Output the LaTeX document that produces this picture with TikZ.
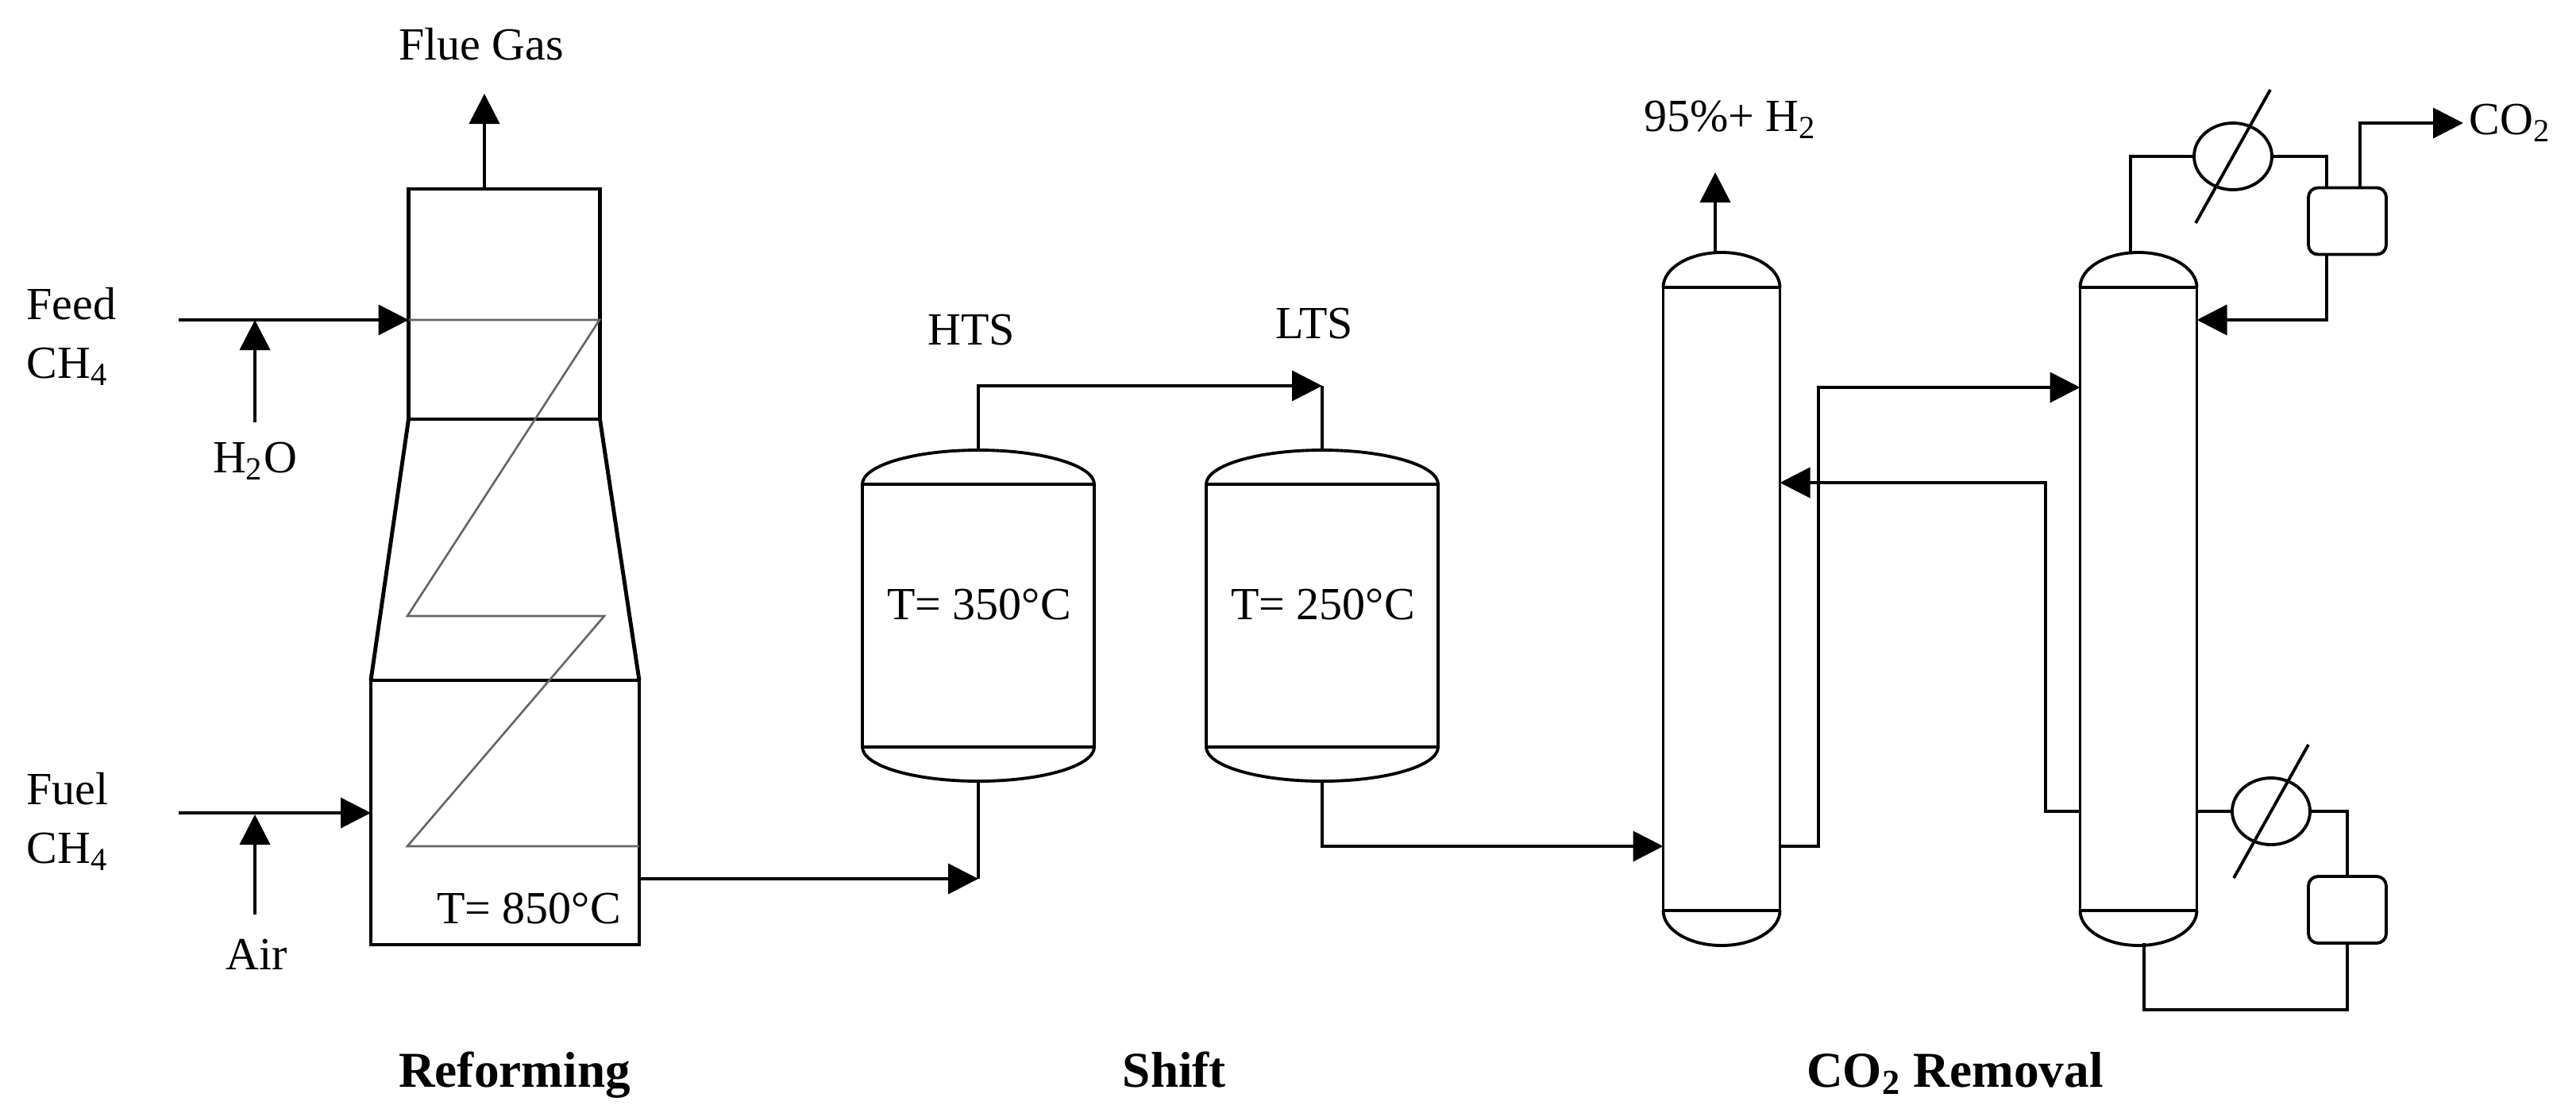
\documentclass[tikz,border=0pt]{standalone}
\usepackage{fontspec}
\setmainfont{Liberation Serif}
\usepackage{xcolor}
\usetikzlibrary{arrows.meta, positioning, calc, shapes.geometric}
\tikzset{
  >={Triangle[length=3.8mm,width=3.8mm]},
  % Testi
  tag/.style={inner sep=2pt,align=left,font=\fontsize{16.5}{21}\selectfont},
  title/.style={inner sep=2pt,anchor=base,font=\fontsize{18}{21}\selectfont\bfseries},
  % Apparecchi
  furnace/.style={draw,line width=1.4pt,inner sep=0,outer sep=0},
  vessel/.style={draw,line width=1.1pt,inner sep=0,outer sep=0},
  drum/.style={draw,line width=1.1pt,rounded corners=1.2mm,inner sep=0,outer sep=0,minimum width=.98cm,minimum height=.84cm},
  cooler/.style={draw,ellipse,line width=1.1pt,inner sep=0,outer sep=0,minimum width=.98cm,minimum height=.84cm},
  % Connessioni
  flow/.style={line width=1.1pt},
  coil/.style={line width=.75pt,black!60}
}
\begin{document}
\begin{tikzpicture}
  \useasboundingbox (0,0) rectangle (32.44,-13.96);
  % Reforming
  \node[furnace, minimum width=2.41cm, minimum height=2.90cm] (convection) at (6.35,-3.83) {};
  \node[furnace, minimum width=3.38cm, minimum height=3.33cm] (radiant) at (6.36,-10.235) {};
  \draw[furnace] (convection.south west) -- (radiant.north west);
  \draw[furnace] (convection.south east) -- (radiant.north east);
  \node[tag] (fluegas) at (6.06,-.56) {Flue Gas};
  \node[tag, anchor=west] (feed) at (.26,-4.24) {Feed\\CH\textsubscript{4}};
  \node[tag, anchor=west] (fuel) at (.26,-10.35) {Fuel\\CH\textsubscript{4}};
  \node[tag] (water) at (3.21,-5.81) {H\textsubscript{2}O};
  \node[tag] (air) at (3.23,-12.02) {Air};
  \node[tag] (tradiant) at (6.66,-11.44) {T= 850°C};
  \coordinate (stack) at (6.10,-1.18);
  \coordinate (feedin) at (2.25,-4.03);
  \coordinate (fuelin) at (2.25,-10.24);
  \coordinate (rfout) at (radiant.east |- 0,-11.07);
  \draw[coil] (feedin -| convection.west) -- (7.55,-4.03) -- (5.13,-7.76) -- (7.61,-7.76) -- (5.13,-10.66) -- (radiant.east |- 0,-10.66);
  \draw[flow,->] (stack |- convection.north) -- (stack);
  \draw[flow,->] (feedin) -- (feedin -| convection.west);
  \draw[flow,->] (fuelin) -- (fuelin -| radiant.west);
  \draw[flow,->] (3.21,-5.32) -- (3.21,-4.03);
  \draw[flow,->] (3.21,-11.52) -- (3.21,-10.26);
  % Shift
  \node[vessel, minimum width=2.92cm, minimum height=3.31cm] (hts) at (12.32,-7.755) {};
  \node[vessel, minimum width=2.92cm, minimum height=3.31cm] (lts) at (16.65,-7.755) {};
  \node[tag] (thts) at (12.33,-7.61) {T= 350°C};
  \node[tag] (tlts) at (16.66,-7.61) {T= 250°C};
  \node[tag] (htslabel) at (12.23,-4.16) {HTS};
  \node[tag] (ltslabel) at (16.55,-4.08) {LTS};
  % CO2 Removal
  \node[vessel, minimum width=1.47cm, minimum height=7.85cm] (absorber) at (21.68,-7.545) {};
  \node[vessel, minimum width=1.47cm, minimum height=7.85cm] (stripper) at (26.93,-7.545) {};
  \node[tag] (hydrogen) at (21.79,-1.51) {95\%+ H\textsubscript{2}};
  \node[tag, anchor=west] (carbon) at (31.02,-1.55) {CO\textsubscript{2}};
  \node[cooler] (condenser) at (28.12,-1.97) {};
  \node[cooler] (reboiler) at (28.60,-10.22) {};
  \node[drum] (refluxdrum) at (29.56,-2.785) {};
  \node[drum] (bottomdrum) at (29.56,-11.46) {};
  % Teste dei recipienti
  \foreach \v/\rx/\ry in {hts/1.46/.43, lts/1.46/.43, absorber/.735/.44, stripper/.735/.44}{
    \draw[vessel] (\v.north west) arc[start angle=180, end angle=0, x radius=\rx cm, y radius=\ry cm];
    \draw[vessel] (\v.south west) arc[start angle=180, end angle=360, x radius=\rx cm, y radius=\ry cm];
    \coordinate (\v-top) at ([yshift=\ry cm]\v.north);
    \coordinate (\v-bot) at ([yshift=-\ry cm]\v.south);
  }
  \foreach \c in {condenser, reboiler}
    \draw[flow] ($(\c)+(-.47,-.84)$) -- ($(\c)+(.47,.84)$);
  % Connessioni
  \coordinate (ltsin) at (lts-top |- 0,-4.86);
  \coordinate (absin) at (absorber.west |- 0,-10.66);
  \draw[flow,->] (rfout) -- (rfout -| hts-bot);
  \draw[flow] (hts-bot) -- (rfout -| hts-bot);
  \draw[flow,->] (hts-top) |- (ltsin);
  \draw[flow] (lts-top) -- (ltsin);
  \draw[flow,->] (lts-bot) |- (absin);
  \draw[flow,->] (21.60,-3.18) -- (21.60,-2.17);
  \draw[flow,->] (absorber.east |- absin) -- (22.90,-10.66) |- (stripper.west |- 0,-4.88);
  \draw[flow,->] (stripper.west |- 0,-10.22) -- (25.76,-10.22) |- (absorber.east |- 0,-6.08);
  \draw[flow] (26.83,-3.20) |- (condenser.west);
  \draw[flow] (condenser.east) -| (29.30,-2.365);
  \draw[flow,->] (29.72,-2.365) |- (carbon.west);
  \draw[flow,->] (29.30,-3.205) |- (stripper.east |- 0,-4.03);
  \draw[flow] (stripper.east |- reboiler) -- (reboiler.west);
  \draw[flow] (reboiler.east) -| (bottomdrum.north);
  \draw[flow] (bottomdrum.south) |- (27.00,-12.72) -- (27.00,-11.88);
  % Titoli
  \node[title] (reforming) at (6.48,-13.69) {Reforming};
  \node[title] (shift) at (14.79,-13.69) {Shift};
  \node[title] (removal) at (24.62,-13.69) {CO\textsubscript{2} Removal};
\end{tikzpicture}
\end{document}
